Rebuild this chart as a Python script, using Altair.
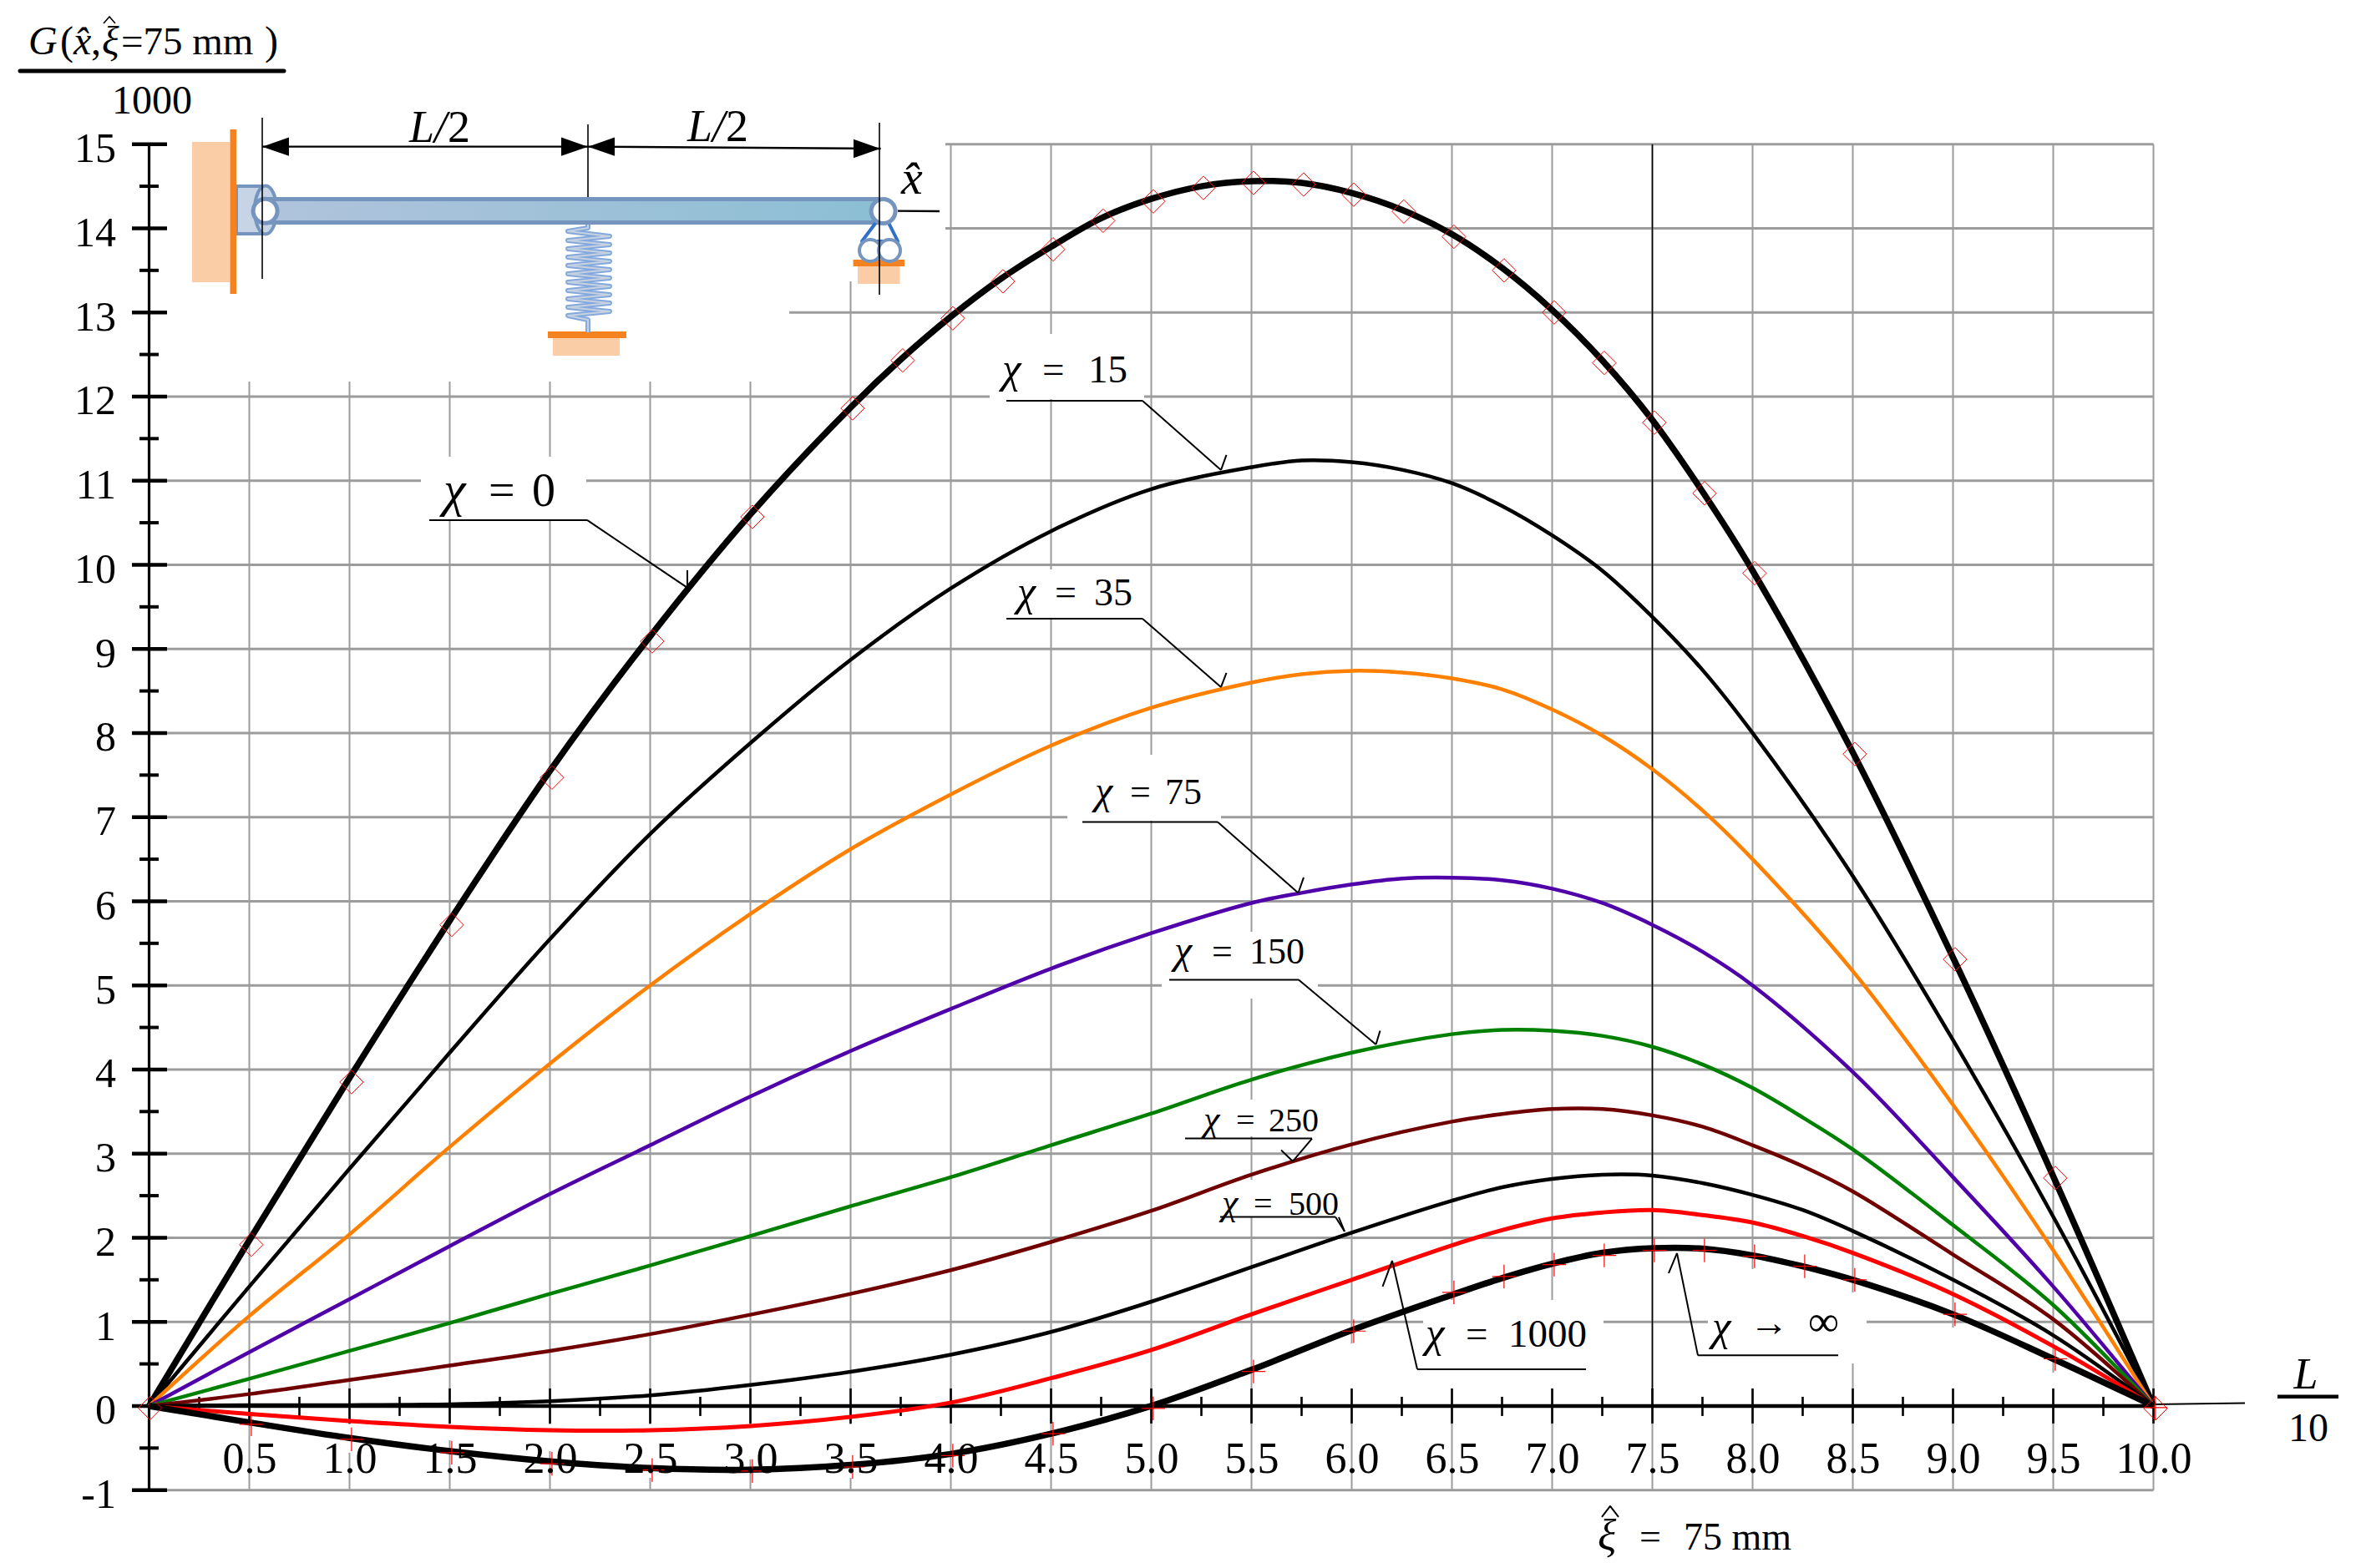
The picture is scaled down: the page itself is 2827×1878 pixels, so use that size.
import altair as alt
import pandas as pd

FONT = "Liberation Serif"
GRID = "#9c9c9c"

xs_half = [i * 0.5 for i in range(21)]

# ---------- curves: (x, G/1000) ----------
x0 = [0, .5, 1, 1.5, 2, 2.5, 3, 3.5, 3.75, 4, 4.25, 4.5, 4.75, 5, 5.25, 5.5, 5.75, 6, 6.25, 6.5, 6.75, 7, 7.25, 7.5, 7.75, 8, 8.5, 9, 9.5, 10]
chi0 = [0, 1.97, 3.9, 5.77, 7.55, 9.15, 10.6, 11.87, 12.44, 12.95, 13.4, 13.78, 14.12, 14.35, 14.5, 14.56, 14.54, 14.42, 14.22, 13.93, 13.53, 13.03, 12.43, 11.72, 10.87, 9.93, 7.77, 5.33, 2.73, 0]
x1 = [0, .5, 1, 1.5, 2, 2.5, 3, 3.5, 4, 4.5, 5, 5.5, 5.75, 6, 6.25, 6.5, 6.75, 7, 7.25, 7.5, 7.75, 8, 8.5, 9, 9.5, 10]
chi15 = [0, 1.42, 2.82, 4.2, 5.55, 6.8, 7.88, 8.87, 9.72, 10.4, 10.9, 11.16, 11.24, 11.22, 11.13, 10.97, 10.7, 10.35, 9.93, 9.38, 8.75, 8.0, 6.3, 4.35, 2.25, 0]
chi35 = [0, 1.07, 2.04, 3.08, 4.07, 5.0, 5.85, 6.62, 7.27, 7.85, 8.3, 8.6, 8.7, 8.74, 8.72, 8.65, 8.52, 8.28, 7.97, 7.57, 7.08, 6.5, 5.17, 3.58, 1.85, 0]
chi75 = [0, .64, 1.27, 1.9, 2.52, 3.1, 3.68, 4.22, 4.72, 5.2, 5.62, 5.98, 6.1, 6.2, 6.27, 6.28, 6.25, 6.15, 5.98, 5.72, 5.4, 5.0, 3.97, 2.72, 1.42, 0]
x2 = [0, .5, 1, 1.5, 2, 2.5, 3, 3.5, 4, 4.5, 5, 5.5, 6, 6.5, 6.75, 7, 7.25, 7.5, 7.75, 8, 8.25, 8.5, 9, 9.5, 10]
chi150 = [0, .324, .655, .986, 1.333, 1.67, 2.02, 2.375, 2.72, 3.1, 3.476, 3.88, 4.2, 4.42, 4.47, 4.46, 4.40, 4.27, 4.06, 3.78, 3.43, 3.05, 2.15, 1.2, 0]
chi250 = [0, .142, .31, .48, .655, .854, 1.085, 1.333, 1.615, 1.95, 2.32, 2.75, 3.11, 3.38, 3.47, 3.53, 3.53, 3.455, 3.32, 3.1, 2.85, 2.55, 1.8, 1.03, 0]
chi500 = [0, .01, .01, .02, .056, .126, .25, .407, .61, .88, 1.24, 1.65, 2.06, 2.44, 2.60, 2.70, 2.75, 2.74, 2.65, 2.51, 2.33, 2.08, 1.5, .84, 0]
chi1000 = [0, -.096, -.18, -.248, -.288, -.288, -.238, -.13, .04, .33, .665, 1.09, 1.5, 1.91, 2.09, 2.23, 2.30, 2.33, 2.27, 2.18, 2.02, 1.82, 1.33, .71, 0]
chi_inf = [0, -.195, -.38, -.536, -.658, -.738, -.757, -.70, -.57, -.33, 0, .43, .9, 1.32, 1.52, 1.69, 1.82, 1.875, 1.87, 1.79, 1.66, 1.5, 1.09, .56, 0]

# markers
dia_x = [.005, .51, 1.01, 1.51, 2.01, 2.51, 3.01, 3.51, 3.76, 4.01, 4.26, 4.51, 4.76, 5.01, 5.26, 5.51, 5.76, 6.01, 6.26, 6.51, 6.76, 7.01, 7.26, 7.51, 7.76, 8.01, 8.51, 9.01, 9.51, 10.01]
dia_y = [-.025, 1.918, 3.85, 5.72, 7.47, 9.09, 10.57, 11.86, 12.43, 12.93, 13.37, 13.75, 14.09, 14.32, 14.48, 14.54, 14.52, 14.4, 14.2, 13.9, 13.5, 13.0, 12.4, 11.69, 10.85, 9.9, 7.75, 5.31, 2.71, -.03]
plus_x = [.51, 1.01, 1.51, 2.01, 2.51, 3.01, 3.51, 4.01, 4.51, 5.01, 5.51, 6.01, 6.51, 6.76, 7.01, 7.26, 7.51, 7.76, 8.01, 8.26, 8.51, 9.01, 9.51, 10.01]
plus_y = [-.218, -.397, -.556, -.687, -.761, -.774, -.725, -.589, -.33, -.03, .41, .89, 1.35, 1.54, 1.68, 1.79, 1.85, 1.85, 1.78, 1.66, 1.50, 1.09, .56, -.02]


# ---------- image position -> data value, for the annotations ----------
def dx(px):
    return (px - 178.5) / 240.0


def dy(py):
    return (1684.0 - py) / 100.75


XS = alt.Scale(domain=[0, 10], nice=False, zero=False)
YS = alt.Scale(domain=[-1, 15], nice=False, zero=False)

# the same axis definition on every layer, so that Vega-Lite merges them into one
AX_X = alt.Axis(
    values=xs_half[1:], format=".1f", grid=False, domain=False, ticks=False, zindex=1, orient="bottom", title=None,
    labelFont=FONT, labelFontSize=52, labelColor="black", labelPadding=-62, labelFlush=False, labelOverlap=False)
AX_Y = alt.Axis(
    values=list(range(-1, 16)), format="d", grid=False, domain=False, ticks=False, zindex=1, orient="left", title=None,
    labelFont=FONT, labelFontSize=50, labelColor="black", labelPadding=40, labelOffset=6, labelFlush=False,
    labelOverlap=False, labelExpr="datum.value < 0 ? '-1' : datum.label")


def X(f="x", **k):
    return alt.X(f"{f}:Q", scale=XS, axis=AX_X, **k)


def Y(f="y", **k):
    return alt.Y(f"{f}:Q", scale=YS, axis=AX_Y, **k)


def segs(items, color, width, cap="butt"):
    """items in image pixels: (x1, y1, x2, y2)"""
    df = pd.DataFrame([{"x": dx(a), "y": dy(b), "x2": dx(c), "y2": dy(d)} for a, b, c, d in items])
    return alt.Chart(df).mark_rule(color=color, strokeWidth=width, strokeCap=cap).encode(
        x=X(), y=Y(), x2="x2:Q", y2="y2:Q")


def polyline(points, color, width):
    df = pd.DataFrame([{"x": dx(a), "y": dy(b), "i": i} for i, (a, b) in enumerate(points)])
    return alt.Chart(df).mark_line(color=color, strokeWidth=width, strokeJoin="round").encode(
        x=X(), y=Y(), order="i:Q")


def rects(items, color, **kw):
    df = pd.DataFrame([{"x": dx(a), "x2": dx(b), "y": dy(c), "y2": dy(d)} for a, b, c, d in items])
    return alt.Chart(df).mark_rect(color=color, **kw).encode(x=X(), x2="x2:Q", y=Y(), y2="y2:Q")


def txt(x, y, s, size, italic=False, align="left"):
    df = pd.DataFrame([{"x": dx(x), "y": dy(y), "t": s}])
    kw = {"fontStyle": "italic"} if italic else {}
    return alt.Chart(df).mark_text(font=FONT, fontSize=size, align=align, baseline="alphabetic",
                                   color="black", **kw).encode(x=X(), y=Y(), text="t:N")


def curve(xv, yv, color, width):
    df = pd.DataFrame({"x": xv, "y": yv})
    return alt.Chart(df).mark_line(color=color, strokeWidth=width, interpolate="catmull-rom",
                                   strokeJoin="round").encode(x=X(), y=Y())


def sym(xv, yv, shape, size, color, width):
    df = pd.DataFrame({"x": xv, "y": yv})
    return alt.Chart(df).mark_point(shape=shape, size=size, stroke=color, strokeWidth=width, fill=None,
                                    opacity=1).encode(x=X(), y=Y())


def dots(items, d, fill, stroke, width, shape="circle"):
    df = pd.DataFrame([{"x": dx(a), "y": dy(b)} for a, b in items])
    return alt.Chart(df).mark_point(shape=shape, size=d * d, fill=fill, stroke=stroke, strokeWidth=width,
                                    filled=True, opacity=1).encode(x=X(), y=Y())


def arrowheads(items, shape):
    df = pd.DataFrame([{"x": dx(a), "y": dy(b)} for a, b in items])
    return alt.Chart(df).mark_point(shape=shape, size=1024, fill="black", stroke="black", strokeWidth=0,
                                    filled=True, opacity=1).encode(x=X(), y=Y())


layers = []

# ---------- grid (drawn as rules so that the white label boxes can interrupt it) ----------
grid_v = pd.DataFrame({"x": xs_half[1:], "y": [-1] * 20, "y2": [15] * 20})
grid_h = pd.DataFrame({"y": list(range(-1, 16)), "x": [0] * 17, "x2": [10] * 17})
layers.append(alt.Chart(grid_v).mark_rule(color=GRID, strokeWidth=2).encode(x=X(), y=Y(), y2="y2:Q"))
layers.append(alt.Chart(grid_h).mark_rule(color=GRID, strokeWidth=3).encode(x=X(), x2="x2:Q", y=Y()))

# white boxes behind the inset and the labels: px x1, x2, y1, y2
masks = [
    (200, 1132, 155, 337), (200, 945, 337, 457),
    (504, 702, 547, 622), (1185, 1370, 400, 478), (1205, 1360, 682, 740),
    (1278, 1462, 904, 983), (1391, 1578, 1116, 1196), (1415, 1580, 1317, 1361),
    (1490, 1510, 1413, 1457),
    (1704, 1920, 1570, 1596), (2045, 2235, 1570, 1596),
    (1608, 1630, 1609, 1664), (1729, 1749, 1557, 1664), (1849, 1869, 1557, 1664),
    (2089, 2109, 1520, 1664), (2209, 2229, 1548, 1633), (2329, 2349, 1590, 1664), (2449, 2469, 1644, 1664),
    (409, 429, 1706, 1740), (529, 549, 1706, 1725), (649, 669, 1706, 1738),
    (769, 789, 1706, 1770), (889, 909, 1706, 1748), (1009, 1029, 1706, 1770),
]
layers.append(rects(masks, "white"))

# inset vertical reference for xi = 7.5
layers.append(alt.Chart(pd.DataFrame({"x": [7.5], "y": [0], "y2": [15]})).mark_rule(
    color="black", strokeWidth=1.6).encode(x=X(), y=Y(), y2="y2:Q"))

# ---------- axes ----------
y_minor = [v + .5 for v in range(-1, 15)]
x_minor = [v * .25 for v in range(1, 40, 2)]
layers.append(segs([(158, 1684 - v * 100.75, 200, 1684 - v * 100.75) for v in range(-1, 16)], "black", 4.5))
layers.append(segs([(167, 1684 - v * 100.75, 190, 1684 - v * 100.75) for v in y_minor], "black", 4))
layers.append(segs([(178.5 + v * 240, 1663, 178.5 + v * 240, 1705) for v in xs_half[1:]], "black", 2.6))
layers.append(segs([(178.5 + v * 240, 1673, 178.5 + v * 240, 1696) for v in x_minor], "black", 2.6))
layers.append(segs([(178.5, 172.7, 178.5, 1785)], "black", 3.2))
layers.append(segs([(178.5, 1684, 2578.5, 1684)], "black", 4.5))
layers.append(segs([(2578.5, 1682, 2688, 1680.5)], "black", 2))

# ---------- curves ----------
layers += [
    curve(x0, chi0, "black", 7.5),
    curve(x1, chi15, "black", 4.5),
    curve(x1, chi35, "#FF8000", 4.5),
    curve(x1, chi75, "#5000A8", 4.5),
    curve(x2, chi150, "#008000", 4.5),
    curve(x2, chi250, "#700000", 4.5),
    curve(x2, chi500, "black", 4.5),
    curve(x2, chi1000, "#FF0000", 5),
    curve(x2, chi_inf, "black", 7.5),
    sym(dia_x, dia_y, "diamond", 800, "#FF0000", 1),
    sym(plus_x, plus_y, "M-1,0H1M0,-1V1", 800, "#FF0000", 1.2),
]

# ---------- leaders: underline, slanted line, small barb ----------
leaders = [
    [(514, 623, 703, 623), (703, 623, 823, 704), (823, 704, 823, 683)],
    [(1205, 480, 1368, 480), (1368, 480, 1462, 563), (1462, 563, 1468.5, 545)],
    [(1205, 741, 1368, 741), (1368, 741, 1462, 823), (1462, 823, 1468.5, 806)],
    [(1296, 984.6, 1458, 984.6), (1458, 984.6, 1554.5, 1069.6), (1554.5, 1069.6, 1561, 1051)],
    [(1400, 1173.6, 1555, 1173.6), (1555, 1173.6, 1647.5, 1251), (1647.5, 1251, 1652.5, 1234.6)],
    [(1419, 1363.6, 1571, 1363.6), (1571, 1363.6, 1548, 1391), (1548, 1391, 1534, 1377.5)],
    [(1461, 1457.6, 1599, 1457.6), (1599, 1457.6, 1610, 1475), (1610, 1475, 1603, 1458)],
    [(1697, 1640, 1899, 1640), (1697, 1640, 1667, 1510), (1667, 1510, 1655.5, 1541)],
    [(2033, 1623.4, 2201, 1623.4), (2033, 1623.4, 2008, 1501), (2008, 1501, 1998, 1525)],
]
for group in leaders:
    layers.append(segs(group, "black", 2))


def chi_label(xc, xe, xv, base, size, val):
    return [txt(xc, base, "χ", size + 4, italic=True), txt(xe, base, "=", size), txt(xv, base, val, size)]


for args in [
    (531, 585, 637, 606, 56, "0"),
    (1200, 1248, 1303, 458, 47, "15"),
    (1218, 1263, 1310, 725, 46, "35"),
    (1311, 1353, 1395, 963, 44, "75"),
    (1406, 1451, 1496, 1153.7, 44, "150"),
    (1441, 1480, 1519, 1355, 40, "250"),
    (1463, 1501, 1543, 1455, 40, "500"),
    (1707, 1755, 1806, 1613, 47, "1000"),
]:
    layers += chi_label(*args)
layers += [txt(2050, 1605, "χ", 51, italic=True), txt(2095, 1600, "→", 47), txt(2165, 1600, "∞", 52)]

# ---------- titles ----------
layers += [
    txt(34, 65, "G", 48, italic=True), txt(72, 65, "(", 48), txt(88, 65, "x\u0302", 48, italic=True),
    txt(109, 65, ",", 48), txt(122, 65, "ξ", 48, italic=True),
    polyline([(124, 28), (131, 20), (138, 28)], "black", 1.6),
    txt(145, 65, "=75 mm", 47), txt(317, 65, ")", 48),
    txt(182, 136, "1000", 48, align="center"),
    txt(2761, 1663, "L", 52, italic=True, align="center"),
    txt(2764, 1726, "10", 48, align="center"),
    txt(1913, 1856, "ξ", 52, italic=True),
    polyline([(1918, 1817), (1928, 1804), (1938, 1817)], "black", 2),
    txt(1963, 1856, "=", 46),
    txt(2016, 1856, "75 mm", 46),
    segs([(24, 85, 340, 85)], "black", 5, cap="round"),
    segs([(2727, 1672.7, 2800, 1672.7)], "black", 4.5),
]

# ---------- inset: beam on a hinge, spring and roller ----------
BLUE = "#7595BF"
ELLIPSE = "M0,-1A.45,1 0 1 1 0,1A.45,1 0 1 1 0,-1Z"
layers += [
    rects([(230, 275.5, 170, 338)], "#FBCDA6"),
    rects([(283, 318, 223, 280)], "#C6D4E6", stroke=BLUE, strokeWidth=4),
    dots([(318, 251.5)], 58, "#C6D4E6", BLUE, 4, shape=ELLIPSE),
    rects([(275.5, 283, 155, 352)], "#F58220"),
    rects([(656, 750, 397, 405), (1021.6, 1083, 311, 319)], "#F58220"),
    rects([(662, 742, 405, 426), (1027, 1077.5, 319, 340)], "#FBCDA6"),
]
spring = [(704, 269), (704, 273), (680, 277), (730, 283), (680, 288), (730, 293), (680, 298), (730, 303), (680, 308),
          (730, 313), (680, 318), (730, 323), (680, 328), (730, 333), (680, 338), (730, 343), (680, 348), (730, 353),
          (680, 358), (730, 363), (680, 368), (730, 373), (680, 378), (704, 383), (704, 398)]
layers += [polyline(spring, "#84A8DC", 6), polyline(spring, "#C5D2E2", 2)]
layers.append(alt.Chart(pd.DataFrame({"x": [dx(318)], "x2": [dx(1052)], "y": [dy(236)], "y2": [dy(269)]})).mark_rect(
    color=alt.Gradient(gradient="linear", x1=0, y1=0, x2=1, y2=0,
                       stops=[alt.GradientStop(color="#B0C3DC", offset=0),
                              alt.GradientStop(color="#8CBFD4", offset=1)])
).encode(x=X(), x2="x2:Q", y=Y(), y2="y2:Q"))
layers.append(rects([(318, 1052, 236, 241), (318, 1052, 264, 269)], BLUE))
layers.append(polyline([(1050, 265), (1032, 289), (1075, 289), (1063, 265)], "#3070C8", 4))
layers += [
    dots([(1042, 300), (1065, 300)], 26, "white", BLUE, 4),
    dots([(317.6, 252.7), (1057.6, 253)], 29, "white", BLUE, 5),
]
layers.append(segs([(314, 141, 314, 334), (704, 149, 704, 236), (1053, 147, 1053, 353)], "black", 1.6))
layers.append(segs([(314, 175.7, 704, 175.7), (704, 175.7, 1054.6, 178), (1075, 252.7, 1125, 253)], "black", 2.4))
layers.append(arrowheads([(330, 175.7), (720, 175.7)], "M-1,0L1,-.7L1,.7Z"))
layers.append(arrowheads([(688, 175.7), (1038, 178)], "M1,0L-1,-.7L-1,.7Z"))
layers += [
    txt(490, 170, "L", 54, italic=True), txt(520, 170, "/", 54, italic=True), txt(536, 170, "2", 54),
    txt(823, 169, "L", 54, italic=True), txt(853, 169, "/", 54, italic=True), txt(869, 169, "2", 54),
    txt(1079, 232, "x\u0302", 58, italic=True),
]

chart = alt.layer(*layers).properties(
    width=2400, height=1612,
    autosize=alt.AutoSizeParams(type="none"),
    padding={"left": 170.5, "top": 164.7, "right": 240, "bottom": 85},
    background="white",
).configure_view(stroke=None)

chart.save("out.html", embed_options={"renderer": "svg", "actions": False})
